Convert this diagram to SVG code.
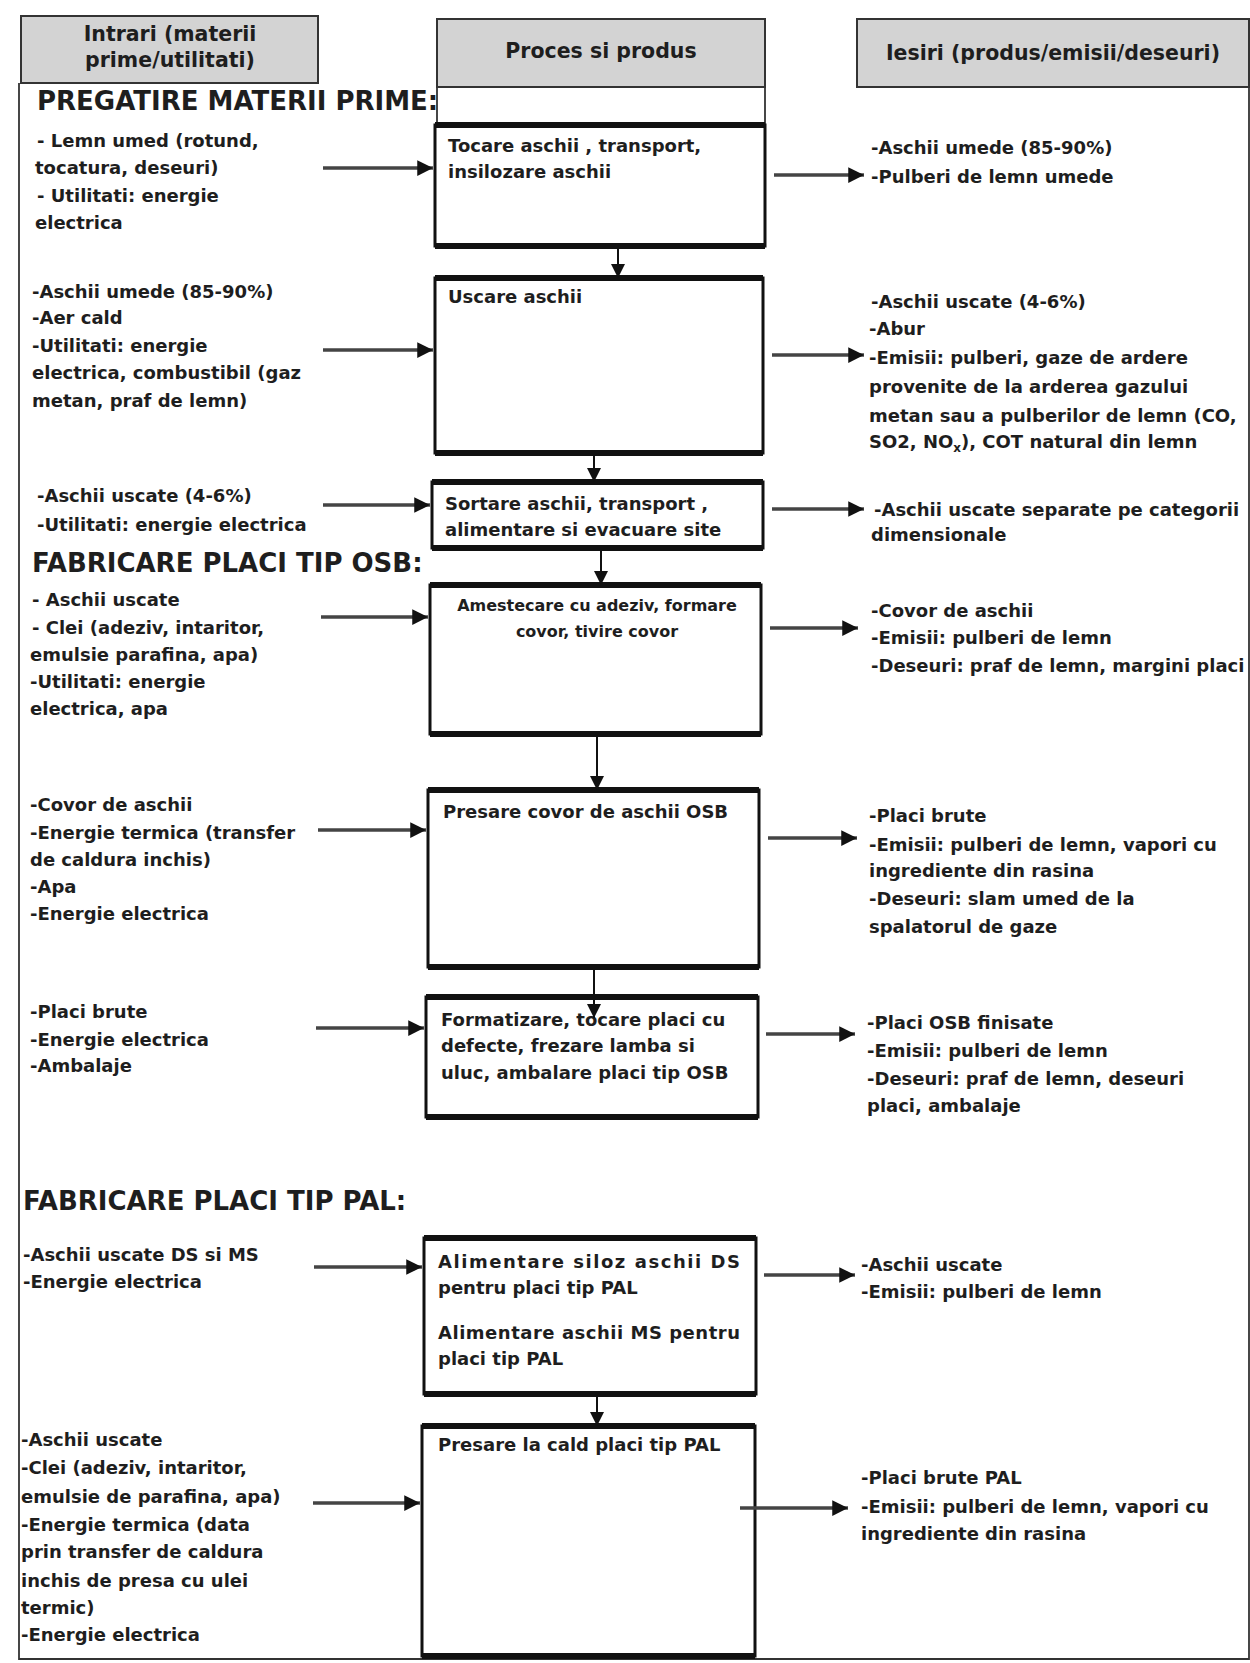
<svg xmlns="http://www.w3.org/2000/svg" width="1250" height="1663" viewBox="0 0 1250 1663">
<style>
  text { font-family: "DejaVu Sans", Verdana, sans-serif; fill: #1e1e1e; }
  .t { font-size: 18px; font-weight: bold; }
  .ts { font-size: 16px; font-weight: bold; }
  .hd { font-size: 20.5px; font-weight: bold; }
  .sec { font-size: 26px; font-weight: bold; }
  .hbox { fill: #d3d3d3; stroke: #333; stroke-width: 2; }
  .box { fill: none; stroke: #111; stroke-width: 3; }
  .edge { stroke: #111; stroke-width: 6; }
  .frame { fill: none; stroke: #333; stroke-width: 1.8; }
  .harr { stroke: #444; stroke-width: 3.5; fill: none; marker-end: url(#ah); }
  .varr { stroke: #111; stroke-width: 2; fill: none; marker-end: url(#av); }
</style>
<defs>
  <marker id="ah" viewBox="0 0 10 10" refX="10" refY="5" markerWidth="4.5" markerHeight="4.5" orient="auto" markerUnits="strokeWidth">
    <path d="M0,0 L10,5 L0,10 z" fill="#111"/>
  </marker>
  <marker id="av" viewBox="0 0 10 10" refX="10" refY="5" markerWidth="7" markerHeight="7" orient="auto" markerUnits="strokeWidth">
    <path d="M0,0 L10,5 L0,10 z" fill="#111"/>
  </marker>
</defs>
<rect width="1250" height="1663" fill="#ffffff"/>

<g id="frame">
  <path class="frame" d="M19,83 V1659 H1249 V87"/>
  <path class="frame" d="M437,87 V125 M765,87 V125"/>
</g>

<g id="headers">
  <g id="hdr-in">
    <rect class="hbox" x="21" y="16" width="297" height="67"/>
    <text class="hd" x="170" y="41" text-anchor="middle">Intrari (materii</text>
    <text class="hd" x="170" y="67" text-anchor="middle">prime/utilitati)</text>
  </g>
  <g id="hdr-proc">
    <rect class="hbox" x="437" y="19" width="328" height="68"/>
    <text class="hd" x="601" y="58" text-anchor="middle">Proces si produs</text>
  </g>
  <g id="hdr-out">
    <rect class="hbox" x="857" y="19" width="392" height="68"/>
    <text class="hd" x="1053" y="60" text-anchor="middle">Iesiri (produs/emisii/deseuri)</text>
  </g>
</g>

<g id="sections">
  <text class="sec" x="37" y="110">PREGATIRE MATERII PRIME:</text>
  <text class="sec" x="32" y="572">FABRICARE PLACI TIP OSB:</text>
  <text class="sec" x="23" y="1210">FABRICARE PLACI TIP PAL:</text>
</g>

<g id="n1">
  <rect class="box" x="435" y="125" width="330" height="121"/>
  <path class="edge" d="M435,125 H765 M435,246 H765"/>
  <text class="t" x="448" y="152">Tocare aschii , transport,</text>
  <text class="t" x="448" y="178">insilozare aschii</text>
</g>
<g id="n2">
  <rect class="box" x="435" y="278" width="328" height="175"/>
  <path class="edge" d="M435,278 H763 M435,453 H763"/>
  <text class="t" x="448" y="303">Uscare aschii</text>
</g>
<g id="n3">
  <rect class="box" x="432" y="482" width="331" height="66"/>
  <path class="edge" d="M432,482 H763 M432,548 H763"/>
  <text class="t" x="445" y="510">Sortare aschii, transport ,</text>
  <text class="t" x="445" y="536">alimentare si evacuare site</text>
</g>
<g id="n4">
  <rect class="box" x="430" y="585" width="331" height="149"/>
  <path class="edge" d="M430,585 H761 M430,734 H761"/>
  <text class="ts" x="597" y="611" text-anchor="middle">Amestecare cu adeziv, formare</text>
  <text class="ts" x="597" y="637" text-anchor="middle">covor, tivire covor</text>
</g>
<g id="n5">
  <rect class="box" x="428" y="790" width="331" height="177"/>
  <path class="edge" d="M428,790 H759 M428,967 H759"/>
  <text class="t" x="443" y="818">Presare covor de aschii OSB</text>
</g>
<g id="n6">
  <rect class="box" x="426" y="997" width="332" height="120"/>
  <path class="edge" d="M426,997 H758 M426,1117 H758"/>
  <text class="t" x="441" y="1026">Formatizare, tocare placi cu</text>
  <text class="t" x="441" y="1052">defecte, frezare lamba si</text>
  <text class="t" x="441" y="1079">uluc, ambalare placi tip OSB</text>
</g>
<g id="n7">
  <rect class="box" x="424" y="1238" width="332" height="156"/>
  <path class="edge" d="M424,1238 H756 M424,1394 H756"/>
  <text class="t" x="438" y="1268" textLength="302" lengthAdjust="spacing">Alimentare siloz aschii DS</text>
  <text class="t" x="438" y="1294">pentru placi tip PAL</text>
  <text class="t" x="438" y="1339" textLength="302" lengthAdjust="spacing">Alimentare aschii MS pentru</text>
  <text class="t" x="438" y="1365">placi tip PAL</text>
</g>
<g id="n8">
  <rect class="box" x="422" y="1426" width="333" height="230"/>
  <path class="edge" d="M422,1426 H755 M422,1656 H755"/>
  <text class="t" x="438" y="1451">Presare la cald placi tip PAL</text>
</g>

<g id="inputs">
  <g id="in1">
    <text class="t" x="37" y="147">- Lemn umed (rotund,</text>
    <text class="t" x="35" y="174">tocatura, deseuri)</text>
    <text class="t" x="37" y="202">- Utilitati: energie</text>
    <text class="t" x="35" y="229">electrica</text>
  </g>
  <g id="in2">
    <text class="t" x="32" y="298">-Aschii umede (85-90%)</text>
    <text class="t" x="32" y="324">-Aer cald</text>
    <text class="t" x="32" y="352">-Utilitati: energie</text>
    <text class="t" x="32" y="379">electrica, combustibil (gaz</text>
    <text class="t" x="32" y="407">metan, praf de lemn)</text>
  </g>
  <g id="in3">
    <text class="t" x="37" y="502">-Aschii uscate (4-6%)</text>
    <text class="t" x="37" y="531">-Utilitati: energie electrica</text>
  </g>
  <g id="in4">
    <text class="t" x="32" y="606">- Aschii uscate</text>
    <text class="t" x="32" y="634">- Clei (adeziv, intaritor,</text>
    <text class="t" x="30" y="661">emulsie parafina, apa)</text>
    <text class="t" x="30" y="688">-Utilitati: energie</text>
    <text class="t" x="30" y="715">electrica, apa</text>
  </g>
  <g id="in5">
    <text class="t" x="30" y="811">-Covor de aschii</text>
    <text class="t" x="30" y="839">-Energie termica (transfer</text>
    <text class="t" x="30" y="866">de caldura inchis)</text>
    <text class="t" x="30" y="893">-Apa</text>
    <text class="t" x="30" y="920">-Energie electrica</text>
  </g>
  <g id="in6">
    <text class="t" x="30" y="1018">-Placi brute</text>
    <text class="t" x="30" y="1046">-Energie electrica</text>
    <text class="t" x="30" y="1072">-Ambalaje</text>
  </g>
  <g id="in7">
    <text class="t" x="23" y="1261">-Aschii uscate DS si MS</text>
    <text class="t" x="23" y="1288">-Energie electrica</text>
  </g>
  <g id="in8">
    <text class="t" x="21" y="1446">-Aschii uscate</text>
    <text class="t" x="21" y="1474">-Clei (adeziv, intaritor,</text>
    <text class="t" x="21" y="1503">emulsie de parafina, apa)</text>
    <text class="t" x="21" y="1531">-Energie termica (data</text>
    <text class="t" x="21" y="1558">prin transfer de caldura</text>
    <text class="t" x="21" y="1587">inchis de presa cu ulei</text>
    <text class="t" x="21" y="1614">termic)</text>
    <text class="t" x="21" y="1641">-Energie electrica</text>
  </g>
</g>

<g id="outputs">
  <g id="out1">
    <text class="t" x="871" y="154">-Aschii umede (85-90%)</text>
    <text class="t" x="871" y="183">-Pulberi de lemn umede</text>
  </g>
  <g id="out2">
    <text class="t" x="871" y="308">-Aschii uscate (4-6%)</text>
    <text class="t" x="869" y="335">-Abur</text>
    <text class="t" x="869" y="364">-Emisii: pulberi, gaze de ardere</text>
    <text class="t" x="869" y="393">provenite de la arderea gazului</text>
    <text class="t" x="869" y="422">metan sau a pulberilor de lemn (CO,</text>
    <text class="t" x="869" y="448">SO2, NO<tspan font-size="12" dy="4">x</tspan><tspan dy="-4">), COT natural din lemn</tspan></text>
  </g>
  <g id="out3">
    <text class="t" x="874" y="516">-Aschii uscate separate pe categorii</text>
    <text class="t" x="871" y="541">dimensionale</text>
  </g>
  <g id="out4">
    <text class="t" x="871" y="617">-Covor de aschii</text>
    <text class="t" x="871" y="644">-Emisii: pulberi de lemn</text>
    <text class="t" x="871" y="672">-Deseuri: praf de lemn, margini placi</text>
  </g>
  <g id="out5">
    <text class="t" x="869" y="822">-Placi brute</text>
    <text class="t" x="869" y="851">-Emisii: pulberi de lemn, vapori cu</text>
    <text class="t" x="869" y="877">ingrediente din rasina</text>
    <text class="t" x="869" y="905">-Deseuri: slam umed de la</text>
    <text class="t" x="869" y="933">spalatorul de gaze</text>
  </g>
  <g id="out6">
    <text class="t" x="867" y="1029">-Placi OSB finisate</text>
    <text class="t" x="867" y="1057">-Emisii: pulberi de lemn</text>
    <text class="t" x="867" y="1085">-Deseuri: praf de lemn, deseuri</text>
    <text class="t" x="867" y="1112">placi, ambalaje</text>
  </g>
  <g id="out7">
    <text class="t" x="861" y="1271">-Aschii uscate</text>
    <text class="t" x="861" y="1298">-Emisii: pulberi de lemn</text>
  </g>
  <g id="out8">
    <text class="t" x="861" y="1484">-Placi brute PAL</text>
    <text class="t" x="861" y="1513">-Emisii: pulberi de lemn, vapori cu</text>
    <text class="t" x="861" y="1540">ingrediente din rasina</text>
  </g>
</g>

<g id="connectors">
  <path class="varr" d="M618,246 V278"/>
  <path class="varr" d="M594,453 V482"/>
  <path class="varr" d="M601,548 V585"/>
  <path class="varr" d="M597,734 V790"/>
  <path class="varr" d="M594,967 V1018"/>
  <path class="varr" d="M597,1394 V1426"/>

  <path class="harr" d="M323,168 H433"/>
  <path class="harr" d="M323,350 H433"/>
  <path class="harr" d="M323,505 H430"/>
  <path class="harr" d="M321,617 H428"/>
  <path class="harr" d="M318,830 H426"/>
  <path class="harr" d="M316,1028 H424"/>
  <path class="harr" d="M314,1267 H422"/>
  <path class="harr" d="M313,1503 H420"/>

  <path class="harr" d="M774,175 H864"/>
  <path class="harr" d="M772,355 H864"/>
  <path class="harr" d="M772,509 H864"/>
  <path class="harr" d="M770,628 H858"/>
  <path class="harr" d="M768,838 H857"/>
  <path class="harr" d="M766,1034 H855"/>
  <path class="harr" d="M764,1275 H855"/>
  <path class="harr" d="M740,1508 H848"/>
</g>
</svg>
